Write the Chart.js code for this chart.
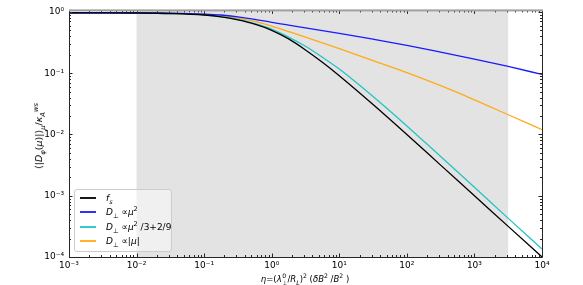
<!DOCTYPE html>
<html><head><meta charset="utf-8">
<script src="https://cdn.jsdelivr.net/npm/chart.js@4.4.1/dist/chart.umd.min.js"></script>
<style>
html,body{margin:0;padding:0;background:#fff;}
#wrap{position:relative;width:583px;height:285px;font-family:"DejaVu Sans",sans-serif;color:#000;overflow:hidden}
#c{position:absolute;left:0;top:0;}
#legend{position:absolute;left:74px;top:189px;width:98px;height:63px;box-sizing:border-box;border:1px solid #cccccc;border-radius:3px;background:rgba(255,255,255,0.45);font-size:9px;}
.row{position:absolute;left:0;height:12px;line-height:12px;white-space:nowrap}
.ln{position:absolute;left:5px;width:16px;top:5px;height:2px;opacity:0.9}
.tx{position:absolute;left:31px;top:0}
sub,sup{font-size:72%;line-height:0}
.ttl{position:absolute;white-space:nowrap;font-size:8.5px;line-height:12px}
.stk{display:inline-flex;flex-direction:column;vertical-align:middle;font-size:72%;line-height:1;margin-left:0.5px}
</style>
</head><body>
<div id="wrap">
<canvas id="c" width="583" height="285"></canvas>
<div id="legend">
 <div class="row" style="top:2px"><span class="ln" style="background:#000000"></span><span class="tx"><i>f</i><sub><i>s</i></sub></span></div>
 <div class="row" style="top:16px"><span class="ln" style="background:#1a1aff"></span><span class="tx"><i>D</i><sub>⊥</sub> ∝<i>μ</i><sup>2</sup></span></div>
 <div class="row" style="top:31px"><span class="ln" style="background:#22c4c4"></span><span class="tx"><i>D</i><sub>⊥</sub> ∝<i>μ</i><sup>2</sup> /3+2/9</span></div>
 <div class="row" style="top:45px"><span class="ln" style="background:#ffaa1a"></span><span class="tx"><i>D</i><sub>⊥</sub> ∝|<i>μ</i>|</span></div>
</div>
<div class="ttl" id="xt" style="left:305px;top:273px;transform:translateX(-50%)"><i>η</i>=(<i>λ</i><span class="stk"><span>0</span><span>⊥</span></span>/<i>R</i><sub><i>L</i></sub>)<sup>2</sup> (<i>δB</i><sup>2</sup> /<i>B</i><sup>2</sup> )</div>
<div class="ttl" id="yt" style="left:39px;top:136px;font-size:9.5px;transform:translate(-50%,-50%) rotate(-90deg)">⟨|<i>D</i><sub><i>φ</i></sub>(<i>μ</i>)|⟩<sub><i>μ</i></sub>/<i>κ</i><sub><i>A</i></sub><sup><i>ws</i></sup></div>
</div>
<script>
// ---- data ----
const eta = [1e-3, 3.16e-3, 1e-2, 3.16e-2, 0.1, 0.178, 0.316, 0.562, 1, 1.78, 3.16, 5.62, 10, 31.6, 100, 316, 1000, 3162, 10000];
const fS    = [0.97, 0.968, 0.962, 0.942, 0.891, 0.832, 0.741, 0.631, 0.501, 0.363, 0.24, 0.151, 0.0912, 0.0309, 0.01, 0.00316, 0.001, 0.000316, 0.0001];
const dMu2  = [0.97, 0.97, 0.966, 0.955, 0.923, 0.891, 0.832, 0.759, 0.676, 0.61, 0.55, 0.497, 0.447, 0.359, 0.285, 0.221, 0.17, 0.129, 0.0955];
const dMix  = [0.97, 0.968, 0.962, 0.944, 0.9, 0.841, 0.759, 0.646, 0.525, 0.389, 0.275, 0.182, 0.117, 0.0417, 0.0138, 0.00437, 0.00138, 0.000427, 0.000135];
const dAbs  = [0.97, 0.97, 0.966, 0.953, 0.912, 0.871, 0.794, 0.7, 0.589, 0.479, 0.389, 0.313, 0.251, 0.16, 0.102, 0.0625, 0.0368, 0.021, 0.012];
const seriesLabels = ['f_s', 'D⊥ ∝ μ²', 'D⊥ ∝ μ²/3+2/9', 'D⊥ ∝ |μ|'];
const xTickValues = [1e-3, 1e-2, 1e-1, 1e0, 1e1, 1e2, 1e3, 1e4];
const yTickValues = [1e-4, 1e-3, 1e-2, 1e-1, 1e0];
const shadeRange = [1e-2, 3.16e3];
const xRange = [1e-3, 1e4];
const yRange = [1e-4, 1.06];

const supMap = {'-':'⁻','0':'⁰','1':'¹','2':'²','3':'³','4':'⁴','5':'⁵','6':'⁶','7':'⁷','8':'⁸','9':'⁹'};
function powLabel(v){
  const e = Math.round(Math.log10(v));
  return '10' + String(e).split('').map(ch => supMap[ch]).join('');
}

const shadePlugin = {
  id: 'shade',
  beforeDatasetsDraw(chart){
    const {ctx, chartArea:a, scales:{x}} = chart;
    const x0 = x.getPixelForValue(shadeRange[0]);
    const x1 = x.getPixelForValue(shadeRange[1]);
    ctx.save();
    ctx.fillStyle = '#e3e3e3';
    ctx.fillRect(x0, a.top, x1 - x0, a.bottom - a.top);
    ctx.restore();
  }
};

function logTicks(min, max){
  const out = [];
  const e0 = Math.floor(Math.log10(min)), e1 = Math.ceil(Math.log10(max));
  for (let e = e0; e <= e1; e++){
    for (let m = 1; m < 10; m++){
      const v = m * Math.pow(10, e);
      if (v >= min*0.999 && v <= max*1.001) out.push({v, major: m === 1});
    }
  }
  return out;
}

const framePlugin = {
  id: 'frame',
  afterDatasetsDraw(chart){
    const {ctx, chartArea:a, scales:{x, y}} = chart;
    ctx.save();
    ctx.strokeStyle = '#262626';
    ctx.lineWidth = 1;
    ctx.beginPath();
    for (const t of logTicks(xRange[0], xRange[1])){
      const px = Math.round(x.getPixelForValue(t.v)) + 0.5;
      const len = t.major ? 3.5 : 2;
      ctx.moveTo(px, a.bottom); ctx.lineTo(px, a.bottom - len);
      ctx.moveTo(px, a.top); ctx.lineTo(px, a.top + len);
    }
    for (const t of logTicks(yRange[0], yRange[1])){
      const py = Math.round(y.getPixelForValue(t.v)) + 0.5;
      const len = t.major ? 3.5 : 2;
      ctx.moveTo(a.left, py); ctx.lineTo(a.left + len, py);
      ctx.moveTo(a.right, py); ctx.lineTo(a.right - len, py);
    }
    ctx.stroke();
    ctx.beginPath();
    ctx.moveTo(a.left + 0.5, a.top); ctx.lineTo(a.left + 0.5, a.bottom + 0.5);
    ctx.lineTo(a.right + 0.5, a.bottom + 0.5); ctx.lineTo(a.right + 0.5, a.top);
    ctx.stroke();
    ctx.fillStyle = '#a0a0a0';
    ctx.fillRect(a.left, a.top - 1, a.right - a.left + 1, 2);
    ctx.restore();
  }
};

const colors = ['#000000', '#1a1aff', '#22c4c4', '#ffaa1a'];
const values = [fS, dMu2, dMix, dAbs];

new Chart(document.getElementById('c'), {
  type: 'line',
  data: {
    datasets: values.map((arr, i) => ({
      label: seriesLabels[i],
      data: eta.map((e, j) => ({x: e, y: arr[j]})),
      borderColor: colors[i],
      borderWidth: 1.3,
      pointRadius: 0,
      fill: false,
      cubicInterpolationMode: 'monotone'
    }))
  },
  options: {
    responsive: false,
    animation: false,
    layout: {padding: {top: 10, right: 41, left: 0, bottom: 0}},
    plugins: {legend: {display: false}, tooltip: {enabled: false}},
    scales: {
      x: {
        type: 'logarithmic', min: xRange[0], max: xRange[1],
        grid: {display: false, drawTicks: false},
        border: {display: false},
        afterBuildTicks: s => { s.ticks = xTickValues.map(v => ({value: v})); },
        afterFit: s => { s.height = 28; },
        ticks: {autoSkip: false, maxRotation: 0, padding: 3, color: '#000',
          font: {family: 'DejaVu Sans', size: 9}, callback: v => powLabel(v)}
      },
      y: {
        type: 'logarithmic', min: yRange[0], max: yRange[1],
        grid: {display: false, drawTicks: false},
        border: {display: false},
        afterBuildTicks: s => { s.ticks = yTickValues.map(v => ({value: v})); },
        afterFit: s => { s.width = 69; },
        ticks: {autoSkip: false, padding: 5, color: '#000',
          font: {family: 'DejaVu Sans', size: 9}, callback: v => powLabel(v)}
      }
    }
  },
  plugins: [shadePlugin, framePlugin]
});
</script>
</body></html>
